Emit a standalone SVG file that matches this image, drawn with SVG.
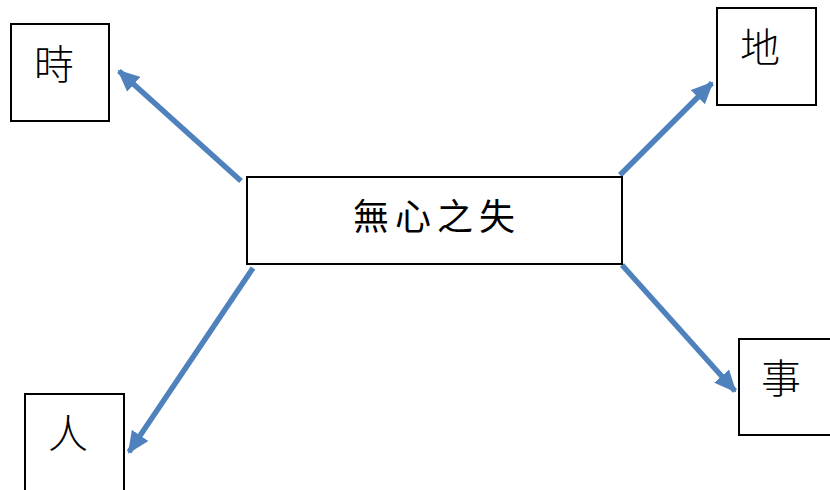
<svg xmlns="http://www.w3.org/2000/svg" width="830" height="490" viewBox="0 0 830 490">
<style>
.box{fill:#fff;stroke:#000;stroke-width:2}
.lbl{font-family:"Noto Sans CJK TC","Noto Sans CJK SC",sans-serif;font-size:40px;font-weight:300;fill:#000;text-anchor:middle}
.main{font-family:"Noto Sans CJK TC","Noto Sans CJK SC",sans-serif;font-size:36px;fill:#000;text-anchor:middle;letter-spacing:6px}
.arr{stroke:#4F81BD;stroke-width:5.5;fill:none;marker-end:url(#ah)}
</style>
<defs>
<marker id="ah" markerUnits="userSpaceOnUse" markerWidth="22" markerHeight="20" refX="20" refY="10" orient="auto" viewBox="0 0 22 20">
<path d="M0,0 L22,10 L0,20 Z" fill="#4F81BD"/>
</marker>
</defs>
<rect width="830" height="490" fill="#fff"/>
<g id="connectors">
<line class="arr" x1="241" y1="181" x2="119" y2="71"/>
<line class="arr" x1="620" y1="175" x2="712" y2="83"/>
<line class="arr" x1="253" y1="268" x2="129" y2="452"/>
<line class="arr" x1="622" y1="265" x2="735" y2="391"/>
</g>
<g id="center">
<rect class="box" x="247" y="177" width="375" height="87"/>
<text class="main" x="437" y="230">無心之失</text>
</g>
<g id="shi">
<rect class="box" x="11" y="24" width="98" height="97"/>
<text class="lbl" x="54" y="79">時</text>
</g>
<g id="di">
<rect class="box" x="717" y="8" width="99" height="97"/>
<text class="lbl" x="760" y="62">地</text>
</g>
<g id="ren">
<rect class="box" x="25" y="394" width="99" height="100"/>
<text class="lbl" x="68" y="448">人</text>
</g>
<g id="shi2">
<rect class="box" x="739" y="339" width="100" height="96"/>
<text class="lbl" x="781" y="393">事</text>
</g>
</svg>
